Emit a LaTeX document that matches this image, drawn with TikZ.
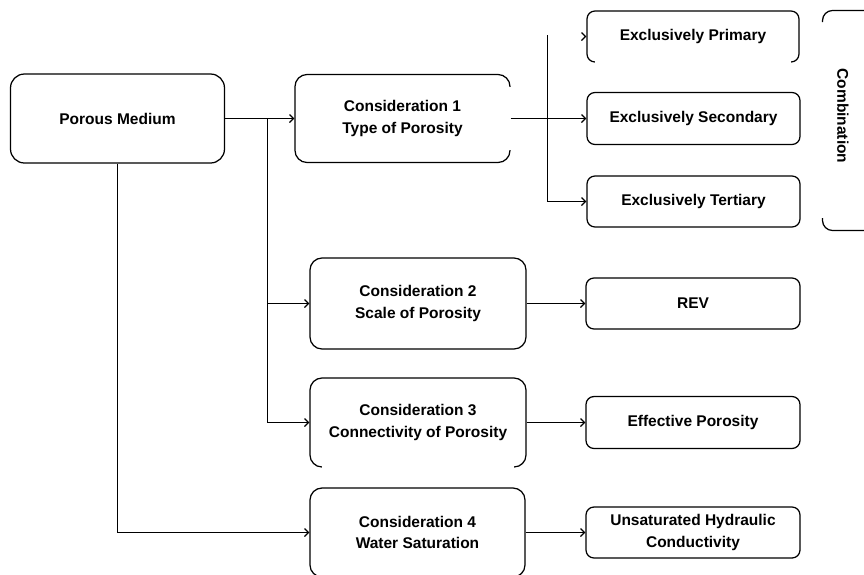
\documentclass[tikz,border=0pt]{standalone}
\usepackage{fontspec}
\setmainfont{Liberation Sans}
\usetikzlibrary{arrows.meta}
\begin{document}
\begin{tikzpicture}[x=1pt,y=-1pt,
  lbl/.style={font=\fontsize{15.5}{21.5}\selectfont\bfseries, align=center},
  box/.style={lbl, rectangle, rounded corners=#1, draw=black, line width=1.25pt, inner sep=0pt},
  box/.default=8,
  gapline/.style={draw=white, line width=2.6pt},
  conn/.style={line width=1.25pt, -{Straight Barb[length=4pt,width=8pt]}},
  plain/.style={line width=1.25pt}
]
\clip (0,0) rectangle (864,574);
\fill[white] (0,0) rectangle (864,574);

% left and middle columns
\node[box=14, minimum width=214pt, minimum height=89pt] (pm) at (117.5,118.5) {Porous Medium};
\node[box=12, minimum width=215pt, minimum height=88pt] (c1) at (402.5,118.5) {Consideration 1\\Type of Porosity};
\node[box=12, minimum width=216pt, minimum height=91pt] (c2) at (418,303.5) {Consideration 2\\Scale of Porosity};
\node[box=12, minimum width=216pt, minimum height=89pt] (c3) at (418,422.5) {Consideration 3\\Connectivity of Porosity};
\node[box=12, minimum width=215pt, minimum height=89pt] (c4) at (417.5,532.5) {Consideration 4\\Water Saturation};

% right column
\node[box, minimum width=212pt, minimum height=51pt] (ep) at (693,36.5) {Exclusively Primary};
\node[box, minimum width=213pt, minimum height=52pt] (es) at (693.5,118.5) {Exclusively Secondary};
\node[box, minimum width=213pt, minimum height=51pt] (et) at (693.5,201.5) {Exclusively Tertiary};
\node[box, minimum width=214pt, minimum height=51pt] (rev) at (693,303.5) {REV};
\node[box, minimum width=214pt, minimum height=52pt] (eff) at (693,422.5) {Effective Porosity};
\node[box, minimum width=214pt, minimum height=51pt] (uhc) at (693,532.5) {Unsaturated Hydraulic\\Conductivity};

% gaps in outlines, as in the reference
\draw[gapline] ([xshift=9pt]ep.south west) -- ([xshift=-9pt]ep.south east);
\draw[gapline] ([yshift=-13pt]c1.north east) -- ([yshift=13pt]c1.south east);
\draw[gapline] ([xshift=13pt]c3.south west) -- ([xshift=-13pt]c3.south east);

% Combination bracket
\draw[plain, rounded corners=10] (880,10.5) -- (822.5,10.5) -- (822.5,22);
\draw[plain, rounded corners=10] (880,230.5) -- (822.5,230.5) -- (822.5,218);
\node[lbl, rotate=-90] (comb) at (843,116) {Combination};

% connectors from Porous Medium
\coordinate (j1) at (267.5,118.5);
\draw[conn] (pm.east) -- (c1.west);
\draw[plain] (j1) -- (j1 |- c2.west);
\draw[conn] (j1 |- c2.west) -- (c2.west);
\draw[conn] (j1 |- c2.west) |- (c3.west);
\draw[conn] (pm.south) |- (c4.west);

% connectors from Consideration 1
\coordinate (j2) at (547.5,118.5);
\coordinate (jt) at (547.5,35);
\draw[conn] (c1.east) -- (es.west);
\draw[plain] (jt) -- (j2);
\draw[conn] (j2) |- (et.west);
\draw[conn] ([xshift=-1.5pt]ep.west) -- (ep.west);

% other connectors
\draw[conn] (c2.east) -- (rev.west);
\draw[conn] (c3.east) -- (eff.west);
\draw[conn] (c4.east) -- (uhc.west);
\end{tikzpicture}
\end{document}
